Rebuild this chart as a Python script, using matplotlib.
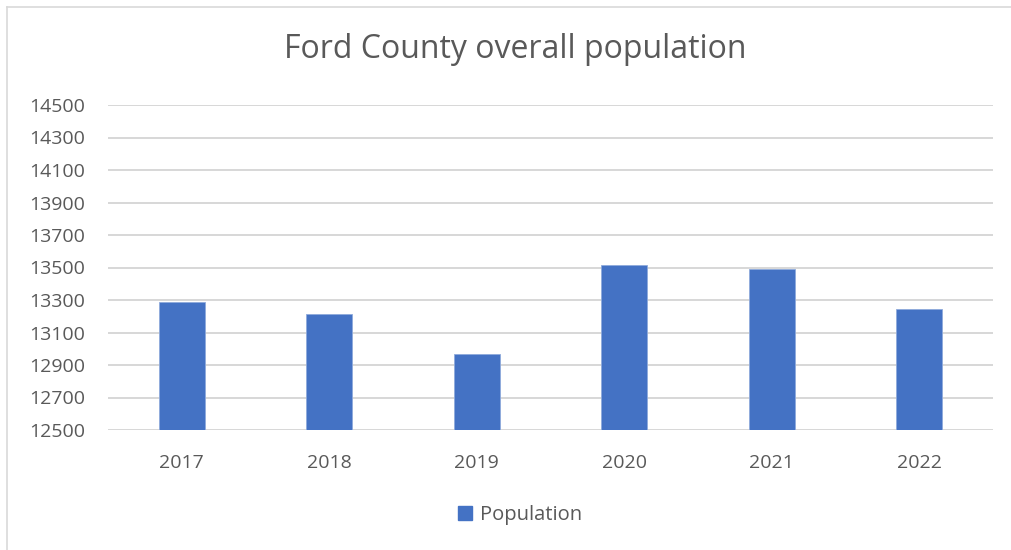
import matplotlib
matplotlib.use("Agg")
import matplotlib.pyplot as plt
from matplotlib.lines import Line2D
from matplotlib.patches import Patch

years = ["2017", "2018", "2019", "2020", "2021", "2022"]
population = [13290, 13215, 12970, 13515, 13488, 13247]
yticks = [12500, 12700, 12900, 13100, 13300, 13500, 13700, 13900, 14100, 14300, 14500]

plt.rcParams['font.family'] = ['Open Sans', 'DejaVu Sans']
txt = '#595959'
bar_c = '#4472C4'

fig = plt.figure(figsize=(10.12, 5.5), dpi=100)
ax = fig.add_axes([108/1012, 1-430/550, (993-108)/1012, (430-105)/550])

x = list(range(len(years)))
ax.bar(x, population, width=0.315, color=bar_c, edgecolor='#8faadc', linewidth=0.6, zorder=3)
ax.set_xlim(-0.5, len(years)-0.5)
ax.set_ylim(yticks[0], yticks[-1])
ax.set_yticks(yticks)
ax.set_yticklabels([str(t) for t in yticks])
ax.set_xticks(x)
ax.set_xticklabels(years)
ax.grid(axis='y', color='#d4d4d4', linewidth=1.3, zorder=0)
ax.tick_params(axis='both', length=0, labelsize=14, colors=txt)
ax.tick_params(axis='y', pad=16.5)
ax.tick_params(axis='x', pad=17)
for s in ax.spines.values():
    s.set_visible(False)

fig.text(515/1012, 1-50/550, "Ford County overall population", ha='center', va='center',
         fontsize=23, color=txt)

handles = [Patch(facecolor=bar_c, edgecolor=bar_c, label='Population')]
fig.legend(handles=handles, loc='center', bbox_to_anchor=(520/1012, 1-515/550), frameon=False,
           fontsize=14.5, labelcolor=txt, handlelength=0.7, handleheight=0.7, handletextpad=0.35)

# chart border (left and top visible)
fig.add_artist(Line2D([7.5/1012, 7.5/1012], [0, 1-6.5/550], color='#d9d9d9', linewidth=1.2))
fig.add_artist(Line2D([7.5/1012, 1], [1-6.5/550, 1-6.5/550], color='#d9d9d9', linewidth=1.2))

fig.savefig('out.png', dpi=100)
